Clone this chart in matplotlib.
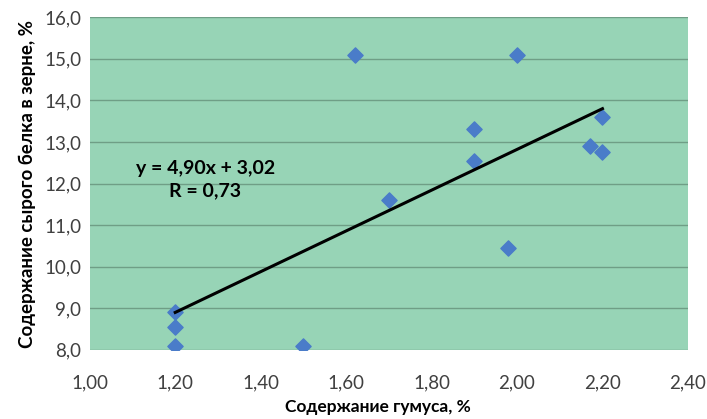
import numpy as np
import matplotlib.pyplot as plt

plt.rcParams['font.family'] = ['Lato', 'DejaVu Sans']

# содержание гумуса, % / содержание сырого белка, %
humus = [1.20, 1.20, 1.20, 1.50, 1.62, 2.00, 1.90, 1.90, 1.70, 1.98, 2.17, 2.20, 2.20]
protein = [8.9, 8.55, 8.1, 8.1, 15.1, 15.1, 13.3, 12.55, 11.6, 10.45, 12.9, 12.75, 13.6]
slope = 4.90
intercept = 3.02
r_value = 0.73

xticks = [1.0, 1.2, 1.4, 1.6, 1.8, 2.0, 2.2, 2.4]
yticks = [8, 9, 10, 11, 12, 13, 14, 15, 16]

def comma(v, n):
    return f'{v:.{n}f}'.replace('.', ',')

fig = plt.figure(figsize=(7.07, 4.19), dpi=100)
ax = fig.add_axes([0.127, 0.165, 0.846, 0.794])
ax.set_facecolor('#97d4b6')

ax.scatter(humus, protein, marker='D', s=60, color='#4a7cc9', zorder=3)

xs = np.array([min(humus), max(humus)])
ax.plot(xs, slope * xs + intercept, color='black', lw=2.2, zorder=4)

eq = f'y = {comma(slope, 2)}x + {comma(intercept, 2)}\nR = {comma(r_value, 2)}'
ax.text(1.27, 12.1, eq, ha='center', va='center', fontsize=14,
        fontweight='bold', linespacing=1.4)

ax.set_xlim(1.0, 2.4)
ax.set_ylim(8, 16)
ax.set_xticks(xticks)
ax.set_xticklabels([comma(v, 2) for v in xticks])
ax.set_yticks(yticks)
ax.set_yticklabels([comma(v, 1) for v in yticks])
ax.tick_params(length=0, labelsize=13.5, labelcolor='#404040')
ax.tick_params(axis='x', pad=18)
ax.tick_params(axis='y', pad=6)
ax.grid(axis='y', color='#6f9e86', lw=1)
ax.set_axisbelow(True)
for s in ax.spines.values():
    s.set_visible(False)

ax.set_xlabel('Содержание гумуса, %', fontsize=12.5, fontweight='bold')
ax.xaxis.set_label_coords(0.482, -0.148)
ax.xaxis.label.set_va('top')
ax.set_ylabel('Содержание сырого белка в зерне, %', fontsize=13.5, fontweight='bold', labelpad=6)

fig.savefig('out.png')
